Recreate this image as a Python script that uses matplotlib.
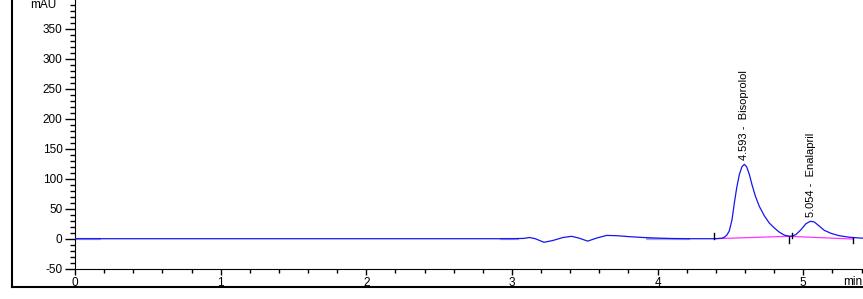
import matplotlib
matplotlib.use("Agg")
import matplotlib.pyplot as plt
from matplotlib.lines import Line2D
from matplotlib.ticker import MultipleLocator

plt.rcParams['font.family'] = ['Liberation Sans', 'DejaVu Sans']
plt.rcParams['axes.unicode_minus'] = False

# chromatogram trace (min, mAU)
time_min = [0.0, 3.0, 3.08, 3.12, 3.16, 3.22, 3.28, 3.35, 3.41, 3.46, 3.52, 3.58,
            3.65, 3.72, 3.80, 3.90, 4.00, 4.10, 4.20, 4.39, 4.44, 4.458, 4.475,
            4.492, 4.511, 4.527, 4.543, 4.561, 4.579, 4.595, 4.611, 4.630, 4.648,
            4.671, 4.698, 4.733, 4.767, 4.801, 4.835, 4.870, 4.904, 4.925, 4.95,
            4.984, 5.018, 5.048, 5.075, 5.11, 5.144, 5.19, 5.247, 5.316, 5.396, 5.41]
signal_mau = [0.0, 0.0, 0.5, 2.0, 0.0, -6.0, -3.0, 2.0, 4.0, 1.0, -4.0, 1.0,
              5.5, 5.0, 3.5, 2.0, 1.0, 0.3, 0.0, 0.0, 0.8, 2.5, 6.0,
              13.0, 32.0, 60.0, 85.0, 107.0, 120.0, 124.0, 120.0, 107.0, 90.0,
              71.0, 54.0, 38.0, 26.0, 18.0, 11.0, 6.0, 4.0, 4.5, 7.0,
              15.0, 25.0, 29.0, 28.0, 21.0, 14.0, 9.0, 5.0, 2.5, 1.0, 1.0]

# integration baselines
base_time = [4.39, 4.90, 5.34]
base_mau = [0.0, 4.0, -0.5]

# peaks
peak_rt = [4.593, 5.054]
peak_height = [124.0, 29.0]
peak_names = ["Bisoprolol", "Enalapril"]

# pale overlay segments on the trace
pale_segments = [(0.0, 0.18), (2.92, 3.05), (3.92, 4.22)]

fig = plt.figure(figsize=(8.63, 2.99), dpi=100)
ax = fig.add_axes([75 / 863, 30.3 / 299, 1 - 75 / 863, 268.7 / 299])

for a, b in pale_segments:
    ax.plot([a, b], [0, 0], color='#a8a8ee', lw=1.6, solid_capstyle='butt', zorder=2)
ax.plot(time_min, signal_mau, color='#1515f0', lw=0.9, zorder=3)
ax.plot(base_time, base_mau, color='#ff33ff', lw=0.9, zorder=2)

# integration tick marks
ax.plot([4.39, 4.39], [0, 9], color='black', lw=1, zorder=4)
ax.plot([4.90, 4.90], [-7, 3], color='black', lw=1, zorder=4)
ax.plot([4.92, 4.92], [2, 10], color='black', lw=1, zorder=4)
ax.plot([5.34, 5.34], [-7, 1], color='black', lw=1, zorder=4)

for rt, h, name in zip(peak_rt, peak_height, peak_names):
    ax.annotate(f"{rt:.3f} -  {name}", (rt, h), xytext=(0, 3),
                textcoords='offset points', rotation=90, ha='center', va='bottom',
                fontsize=8)

ax.set_xlim(0, 5.41)
ax.set_ylim(-50, 398)
ax.xaxis.set_major_locator(MultipleLocator(1))
ax.xaxis.set_minor_locator(MultipleLocator(0.2))
ax.yaxis.set_minor_locator(MultipleLocator(10))
ax.set_yticks(range(-50, 351, 50))
ax.tick_params(axis='both', which='both', direction='out', labelsize=8.5, width=1)
ax.tick_params(axis='y', which='major', length=7, pad=2)
ax.tick_params(axis='y', which='minor', length=3.5)
ax.tick_params(axis='x', which='major', length=4, pad=2)
ax.tick_params(axis='x', which='minor', length=3)
ax.spines['top'].set_visible(False)
ax.spines['right'].set_visible(False)
ax.set_facecolor('none')

fig.text(43 / 863, 1 - 5 / 299, "mAU", ha='center', va='center', fontsize=8.5)
fig.text(862 / 863, 1 - 282 / 299, "min", ha='right', va='center', fontsize=8.5)

# outer frame
fig.add_artist(Line2D([12 / 863, 12 / 863], [1 - 287 / 299, 1], color='black', lw=1.5))
fig.add_artist(Line2D([12 / 863, 1], [1 - 287 / 299, 1 - 287 / 299], color='black', lw=1.5))

fig.savefig("out.png", dpi=100)
